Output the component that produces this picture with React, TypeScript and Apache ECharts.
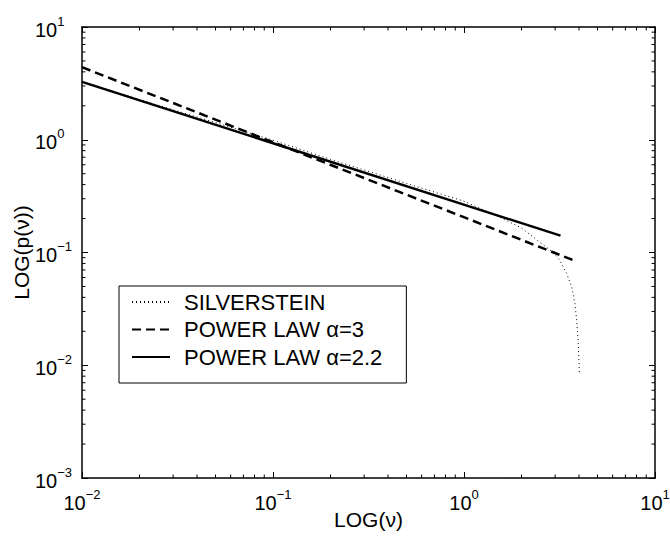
import React, { useEffect, useRef } from "react";
import * as echarts from "echarts";

const silversteinX = [0.01, 0.02, 0.05, 0.1, 0.2, 0.5, 1.0, 1.5, 2.0, 2.5, 2.94, 3.18, 3.45, 3.67, 3.81, 3.89, 3.96, 4.02];
const silversteinY = [3.3, 2.27, 1.42, 0.99, 0.67, 0.41, 0.285, 0.21, 0.165, 0.123, 0.1, 0.085, 0.065, 0.049, 0.035, 0.025, 0.0166, 0.0085];

const powerLaw3X = [0.01, 3.9];
const powerLaw3Y = [4.4, 0.083];

const powerLaw22X = [0.01, 3.2];
const powerLaw22Y = [3.26, 0.141];

const seriesNames = ["SILVERSTEIN", "POWER LAW \u03b1=3", "POWER LAW \u03b1=2.2"];

const xMinorTicks = [0.02, 0.03, 0.04, 0.05, 0.06, 0.07, 0.08, 0.09, 0.2, 0.3, 0.4, 0.5, 0.6, 0.7, 0.8, 0.9, 2, 3, 4, 5, 6, 7, 8, 9];
const yMinorTicks = [0.002, 0.003, 0.004, 0.005, 0.006, 0.007, 0.008, 0.009, 0.02, 0.03, 0.04, 0.05, 0.06, 0.07, 0.08, 0.09, 0.2, 0.3, 0.4, 0.5, 0.6, 0.7, 0.8, 0.9, 2, 3, 4, 5, 6, 7, 8, 9];

const FONT = "'Liberation Sans', Arial, Helvetica, sans-serif";
const MINOR_LEN = 3.5;
const MAJOR_LEN = 6;

const zip = (xs: number[], ys: number[]) => xs.map((x, i) => [x, ys[i]]);

const expFormatter = (v: number) => {
  const e = Math.round(Math.log10(v));
  const s = e < 0 ? "\u2212" + Math.abs(e) : String(e);
  return `{b|10}{s|${s}}`;
};

const rich = {
  b: { fontSize: 20, fontFamily: FONT, color: "#000", padding: [5, 0, 0, 0] },
  s: { fontSize: 13, fontFamily: FONT, color: "#000", verticalAlign: "top" },
};

export default function App() {
  const ref = useRef<HTMLDivElement>(null);
  useEffect(() => {
    if (!ref.current) return;
    const chart = echarts.init(ref.current, null, { renderer: "svg" });
    const axisLine = { show: true, onZero: false, lineStyle: { color: "#000", width: 1.5 } };
    const axisTick = { show: true, inside: true, length: MAJOR_LEN, lineStyle: { color: "#000", width: 1 } };
    const option: any = {
      animation: false,
      backgroundColor: "#fff",
      grid: { left: 82, top: 27, right: 15, bottom: 59, containLabel: false, outerBoundsMode: "none" },
      legend: {
        data: seriesNames,
        orient: "vertical",
        left: 119,
        top: 286,
        padding: [5, 24, 15, 12],
        itemGap: 5.5,
        itemWidth: 38,
        itemHeight: 20,
        borderColor: "#000",
        borderWidth: 1,
        backgroundColor: "#fff",
        itemStyle: { opacity: 0 },
        textStyle: { fontSize: 22, fontFamily: FONT, color: "#000", padding: [0, 0, 0, 9] },
      },
      xAxis: [
        {
          type: "log",
          logBase: 10,
          min: 0.01,
          max: 10,
          position: "bottom",
          axisLine,
          axisTick,
          splitLine: { show: false },
          axisLabel: { formatter: expFormatter, rich, margin: 10 },
          name: "LOG(\u03bd)",
          nameLocation: "middle",
          nameGap: 31,
          nameMoveOverlap: false,
          nameTextStyle: { fontSize: 21, fontFamily: FONT, color: "#000" },
        },
        {
          type: "log",
          logBase: 10,
          min: 0.01,
          max: 10,
          position: "top",
          axisLine,
          axisTick,
          splitLine: { show: false },
          axisLabel: { show: false },
        },
      ],
      yAxis: [
        {
          type: "log",
          logBase: 10,
          min: 0.001,
          max: 10,
          position: "left",
          axisLine,
          axisTick,
          splitLine: { show: false },
          axisLabel: { formatter: expFormatter, rich, margin: 47, align: "left" },
          name: "LOG(p(\u03bd))",
          nameLocation: "middle",
          nameGap: 50,
          nameMoveOverlap: false,
          nameTextStyle: { fontSize: 21, fontFamily: FONT, color: "#000" },
        },
        {
          type: "log",
          logBase: 10,
          min: 0.001,
          max: 10,
          position: "right",
          axisLine,
          axisTick,
          splitLine: { show: false },
          axisLabel: { show: false },
        },
      ],
      series: [
        {
          name: seriesNames[0],
          type: "line",
          data: zip(silversteinX, silversteinY),
          showSymbol: false,
          symbol: "none",
          smooth: false,
          lineStyle: { color: "#000", width: 1, type: [1, 3] },
          itemStyle: { color: "#000" },
        },
        {
          name: seriesNames[1],
          type: "line",
          data: zip(powerLaw3X, powerLaw3Y),
          showSymbol: false,
          symbol: "none",
          lineStyle: { color: "#000", width: 2.5, type: [9, 5] },
          itemStyle: { color: "#000" },
        },
        {
          name: seriesNames[2],
          type: "line",
          data: zip(powerLaw22X, powerLaw22Y),
          showSymbol: false,
          symbol: "none",
          lineStyle: { color: "#000", width: 2.5, type: "solid" },
          itemStyle: { color: "#000" },
        },
        {
          name: "xminor",
          type: "custom",
          silent: true,
          data: xMinorTicks.map((v) => [v, 1]),
          renderItem: (params: any, api: any) => {
            const x = api.coord([api.value(0), api.value(1)])[0];
            const cs = params.coordSys;
            const b = cs.y + cs.height;
            return {
              type: "group",
              children: [
                { type: "line", shape: { x1: x, y1: b, x2: x, y2: b - MINOR_LEN }, style: { stroke: "#000", lineWidth: 1 } },
                { type: "line", shape: { x1: x, y1: cs.y, x2: x, y2: cs.y + MINOR_LEN }, style: { stroke: "#000", lineWidth: 1 } },
              ],
            };
          },
        },
        {
          name: "yminor",
          type: "custom",
          silent: true,
          data: yMinorTicks.map((v) => [1, v]),
          renderItem: (params: any, api: any) => {
            const y = api.coord([api.value(0), api.value(1)])[1];
            const cs = params.coordSys;
            const r = cs.x + cs.width;
            return {
              type: "group",
              children: [
                { type: "line", shape: { x1: cs.x, y1: y, x2: cs.x + MINOR_LEN, y2: y }, style: { stroke: "#000", lineWidth: 1 } },
                { type: "line", shape: { x1: r, y1: y, x2: r - MINOR_LEN, y2: y }, style: { stroke: "#000", lineWidth: 1 } },
              ],
            };
          },
        },
      ],
    };
    chart.setOption(option);
    return () => chart.dispose();
  }, []);
  return <div ref={ref} style={{ position: "fixed", left: 0, top: 0, width: 670, height: 537 }} />;
}
